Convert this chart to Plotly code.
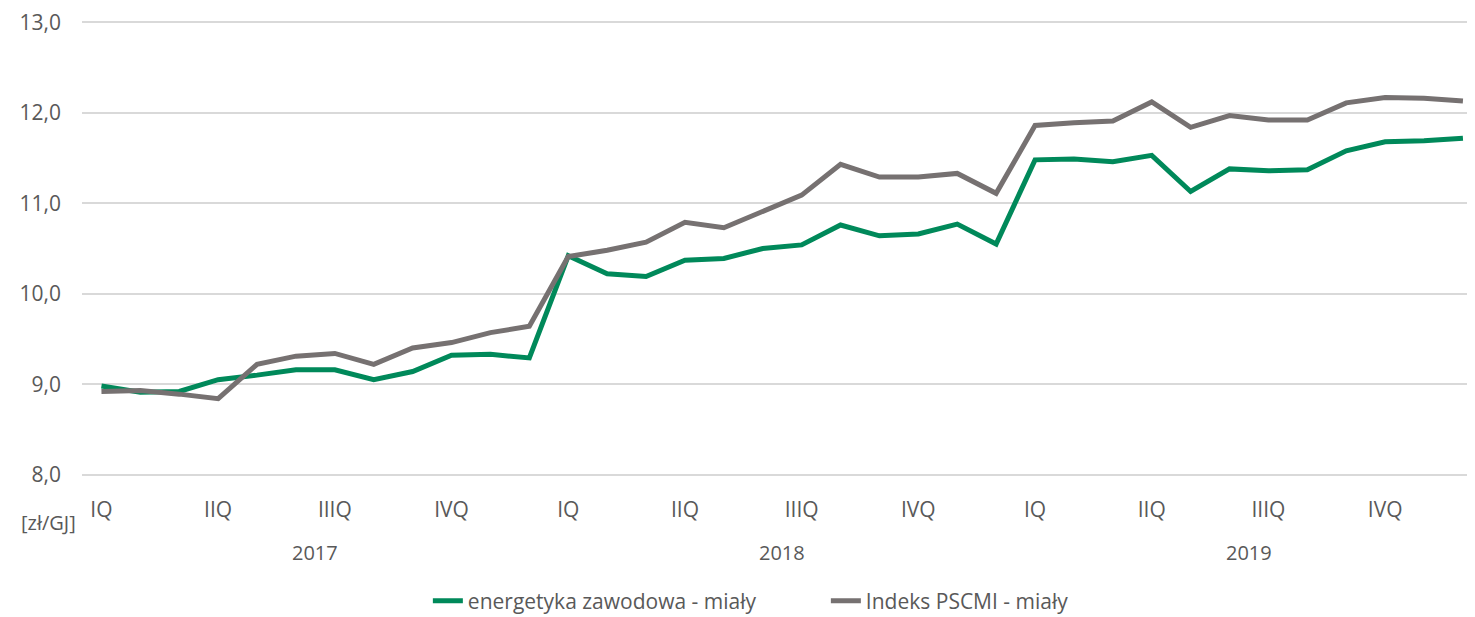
import plotly.graph_objects as go

months = list(range(36))
energetyka = [8.98, 8.91, 8.92, 9.05, 9.10, 9.16, 9.16, 9.05, 9.14, 9.32, 9.33, 9.29,
              10.42, 10.22, 10.19, 10.37, 10.39, 10.50, 10.54, 10.76, 10.64, 10.66, 10.77, 10.55,
              11.48, 11.49, 11.46, 11.53, 11.13, 11.38, 11.36, 11.37, 11.58, 11.68, 11.69, 11.72]
pscmi = [8.92, 8.93, 8.89, 8.84, 9.22, 9.31, 9.34, 9.22, 9.40, 9.46, 9.57, 9.64,
         10.41, 10.48, 10.57, 10.79, 10.73, 10.91, 11.09, 11.43, 11.29, 11.29, 11.33, 11.11,
         11.86, 11.89, 11.91, 12.12, 11.84, 11.97, 11.92, 11.92, 12.11, 12.17, 12.16, 12.13]
quarter_ticks = [0, 3, 6, 9, 12, 15, 18, 21, 24, 27, 30, 33]
quarter_labels = ["IQ", "IIQ", "IIIQ", "IVQ"] * 3
years = ["2017", "2018", "2019"]
year_centers = [5.5, 17.5, 29.5]
y_ticks = [8, 9, 10, 11, 12, 13]
y_labels = ["8,0", "9,0", "10,0", "11,0", "12,0", "13,0"]

FONT = "'Open Sans', sans-serif"
TXT = "#595959"
FS = 20

fig = go.Figure()
fig.add_trace(go.Scatter(x=months, y=energetyka, mode="lines", name="energetyka zawodowa - miały",
                         line=dict(color="#00895A", width=5)))
fig.add_trace(go.Scatter(x=months, y=pscmi, mode="lines", name="Indeks PSCMI - miały",
                         line=dict(color="#767171", width=5)))

for yr, xc in zip(years, year_centers):
    fig.add_annotation(x=xc, y=-0.1685, xref="x", yref="paper", text=yr, showarrow=False,
                       font=dict(family=FONT, size=FS, color=TXT), yanchor="middle")

fig.add_annotation(x=-0.0237, y=-0.103, xref="paper", yref="paper", text="[zł/GJ]",
                   showarrow=False, xanchor="center", yanchor="middle",
                   font=dict(family=FONT, size=FS, color=TXT))

fig.update_layout(
    width=1467, height=609,
    margin=dict(l=74, r=0, t=11, b=141),
    plot_bgcolor="white", paper_bgcolor="white",
    font=dict(family=FONT, size=FS, color=TXT),
    xaxis=dict(range=[-0.5, 35.31], tickvals=quarter_ticks, ticktext=quarter_labels,
               showgrid=False, zeroline=False, showline=False, ticks="",
               ticklabelstandoff=19, tickfont=dict(size=21, color=TXT)),
    yaxis=dict(range=[7.985, 13.015], tickvals=y_ticks, ticktext=y_labels, showgrid=True,
               gridcolor="#D9D9D9", gridwidth=1.5, zeroline=False, showline=False,
               ticks="", ticklabelstandoff=20, ticklabeloverflow="allow",
               tickfont=dict(size=21, color=TXT)),
    legend=dict(orientation="h", x=0.534, xanchor="center", xref="paper",
                y=0.026, yanchor="middle", yref="container",
                entrywidth=353, entrywidthmode="pixels",
                font=dict(size=21, color=TXT)),
    showlegend=True,
)

fig.write_html("out.html")
